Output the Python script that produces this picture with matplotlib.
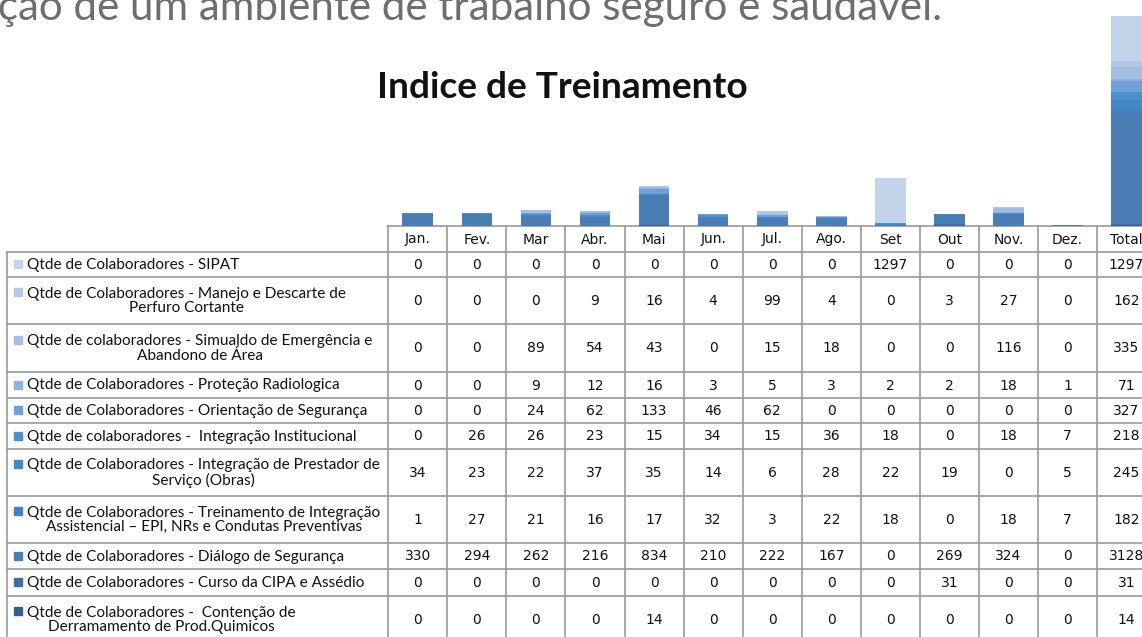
import numpy as np
import matplotlib
matplotlib.use("Agg")
import matplotlib.pyplot as plt
from matplotlib.patches import Rectangle

# dados da tabela (colunas: meses + total)
months = ["Jan.", "Fev.", "Mar", "Abr.", "Mai", "Jun.", "Jul.", "Ago.", "Set", "Out", "Nov.", "Dez.", "Total"]

series_names = [
    "Qtde de Colaboradores - SIPAT",
    "Qtde de Colaboradores - Manejo e Descarte de\nPerfuro Cortante",
    "Qtde de colaboradores - Simualdo de Emergência e\nAbandono de Área",
    "Qtde de Colaboradores - Proteção Radiologica",
    "Qtde de Colaboradores - Orientação de Segurança",
    "Qtde de colaboradores -  Integração Institucional",
    "Qtde de Colaboradores - Integração de Prestador de\nServiço (Obras)",
    "Qtde de Colaboradores - Treinamento de Integração\nAssistencial – EPI, NRs e Condutas Preventivas",
    "Qtde de Colaboradores - Diálogo de Segurança",
    "Qtde de Colaboradores - Curso da CIPA e Assédio",
    "Qtde de Colaboradores -  Contenção de\nDerramamento de Prod.Quimicos",
]

sipat = [0, 0, 0, 0, 0, 0, 0, 0, 1297, 0, 0, 0, 1297]
manejo = [0, 0, 0, 9, 16, 4, 99, 4, 0, 3, 27, 0, 162]
simulado = [0, 0, 89, 54, 43, 0, 15, 18, 0, 0, 116, 0, 335]
radiologica = [0, 0, 9, 12, 16, 3, 5, 3, 2, 2, 18, 1, 71]
orientacao = [0, 0, 24, 62, 133, 46, 62, 0, 0, 0, 0, 0, 327]
integracao = [0, 26, 26, 23, 15, 34, 15, 36, 18, 0, 18, 7, 218]
prestador = [34, 23, 22, 37, 35, 14, 6, 28, 22, 19, 0, 5, 245]
treinamento = [1, 27, 21, 16, 17, 32, 3, 22, 18, 0, 18, 7, 182]
dialogo = [330, 294, 262, 216, 834, 210, 222, 167, 0, 269, 324, 0, 3128]
cipa = [0, 0, 0, 0, 0, 0, 0, 0, 0, 31, 0, 0, 31]
contencao = [0, 0, 0, 0, 14, 0, 0, 0, 0, 0, 0, 0, 14]

series = [sipat, manejo, simulado, radiologica, orientacao, integracao,
          prestador, treinamento, dialogo, cipa, contencao]

colors = ["#c3d4ea", "#b3c8e4", "#a3bedf", "#8db2de", "#6fa1d8", "#4b90d0",
          "#4787c7", "#4580bf", "#4a7db3", "#3e6e9f", "#35608c"]

W, H = 1142, 637
fig = plt.figure(figsize=(W / 100, H / 100), dpi=100)

# fundo em coordenadas de pixel para texto e tabela
bg = fig.add_axes([0, 0, 1, 1])
bg.set_xlim(0, W)
bg.set_ylim(H, 0)
bg.axis("off")

# texto cortado do slide (continua fora da imagem)
bg.text(942, 20, "ação de um ambiente de trabalho seguro e saudável.",
        ha="right", va="baseline", fontsize=30.3, color="#6e6e6e", family="Lato")

bg.text(562, 87, "Indice de Treinamento", ha="center", va="center",
        fontsize=26.7, fontweight="bold", family="Lato", color="#111111")

# geometria da tabela
x_label = 7
x0 = 388.3
col_w = 59.06
top = 225.5
row_h = [26, 25, 47, 48, 26, 25, 26, 47, 47, 26, 27, 47]
edges = top + np.concatenate([[0], np.cumsum(row_h)])
line_kw = dict(color="#9a9a9a", lw=1.2)

# barras empilhadas
bar_ax = fig.add_axes([x0 / W, 1 - top / H, len(months) * col_w / W, top / H])
bar_ax.patch.set_alpha(0)
x = np.arange(len(months))
bottom = np.zeros(len(months))
for vals, c in zip(series[::-1], colors[::-1]):
    bar_ax.bar(x, vals, width=0.52, bottom=bottom, color=c, edgecolor="none")
    bottom += np.array(vals)
bar_ax.set_xlim(-0.5, len(months) - 0.5)
bar_ax.set_ylim(0, 6470)
bar_ax.axis("off")

# linhas horizontais
bg.plot([x0, W + 20], [edges[0], edges[0]], **line_kw)
for e in edges[1:]:
    bg.plot([x_label, W + 20], [e, e], **line_kw)
# linhas verticais
bg.plot([x_label, x_label], [edges[1], H + 10], **line_kw)
for i in range(len(months) + 1):
    xv = x0 + i * col_w
    bg.plot([xv, xv], [edges[0], H + 10], **line_kw)

num_kw = dict(ha="center", va="center", fontsize=10, color="#111111", family="DejaVu Sans")

# cabeçalho
for i, m in enumerate(months):
    bg.text(x0 + (i + 0.5) * col_w, (edges[0] + edges[1]) / 2 + 1, m, **num_kw)

# linhas da tabela
for r, (name, vals, c) in enumerate(zip(series_names, series, colors)):
    yc = (edges[r + 1] + edges[r + 2]) / 2
    nlines = name.count("\n") + 1
    y_first = yc - (nlines - 1) * 8
    bg.add_patch(Rectangle((14, y_first - 4), 8, 8, color=c))
    bg.text(27, yc + 1, name, ha="left", va="center", multialignment="center",
            fontsize=11.1, family="Lato", color="#111111", linespacing=1.05)
    for i, v in enumerate(vals):
        bg.text(x0 + (i + 0.5) * col_w, yc + 1, str(v), **num_kw)

fig.savefig("out.png", dpi=100)
